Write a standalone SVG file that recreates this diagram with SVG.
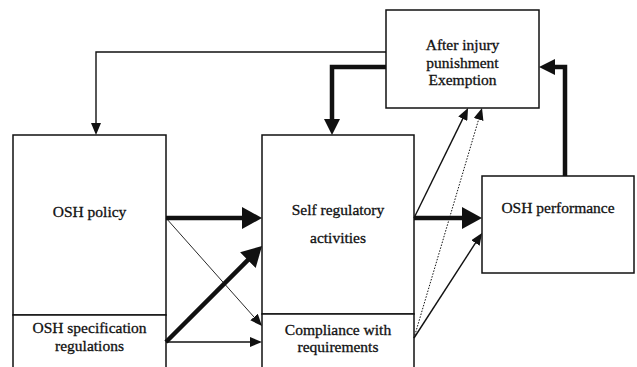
<svg xmlns="http://www.w3.org/2000/svg" width="637" height="367" viewBox="0 0 637 367">
<style>
.box{fill:#fff;stroke:#111;stroke-width:1.5}
.t{font-family:"Liberation Serif","Times New Roman",serif;font-size:15.5px;fill:#111;stroke:#111;stroke-width:0.3;text-anchor:middle}
.thin{fill:none;stroke:#111;stroke-width:1.4}
.hair{fill:none;stroke:#111;stroke-width:0.9}
.dot{fill:none;stroke:#111;stroke-width:1;stroke-dasharray:1.5 1.5}
.thick{fill:none;stroke:#111;stroke-width:4.5}
</style>
<defs>
<marker id="big" markerUnits="userSpaceOnUse" markerWidth="20" markerHeight="22" refX="2" refY="11" orient="auto"><path d="M0,0 L20,11 L0,22 z" fill="#111"/></marker>
<marker id="mid" markerUnits="userSpaceOnUse" markerWidth="16" markerHeight="16" refX="2" refY="8" orient="auto"><path d="M0,0 L16,8 L0,16 z" fill="#111"/></marker>
<marker id="sm" markerUnits="userSpaceOnUse" markerWidth="12" markerHeight="10" refX="1" refY="5" orient="auto"><path d="M0,0 L12,5 L0,10 z" fill="#111"/></marker>
</defs>
<rect width="637" height="367" fill="#fff"/>
<g id="osh-policy"><rect class="box" x="13" y="135" width="153" height="180"/><text class="t" x="89.5" y="217">OSH policy</text></g>
<g id="osh-spec"><rect class="box" x="13" y="315" width="153" height="60"/><text class="t" x="89.5" y="333">OSH specification</text><text class="t" x="89.5" y="351">regulations</text></g>
<g id="self-reg"><rect class="box" x="262" y="135" width="152" height="179"/><text class="t" x="338" y="215">Self regulatory</text><text class="t" x="338" y="243">activities</text></g>
<g id="compliance"><rect class="box" x="262" y="314" width="152" height="61"/><text class="t" x="338" y="335">Compliance with</text><text class="t" x="338" y="352">requirements</text></g>
<g id="after-injury"><rect class="box" x="386" y="10" width="153" height="98"/><text class="t" x="462.5" y="50">After injury</text><text class="t" x="462.5" y="68">punishment</text><text class="t" x="462.5" y="85">Exemption</text></g>
<g id="osh-performance"><rect class="box" x="482" y="176" width="152" height="97"/><text class="t" x="558" y="213">OSH performance</text></g>
<g id="connectors">
<path class="thin" d="M386,52 H96 V124" marker-end="url(#sm)"/>
<path class="thick" d="M386,67 H332 V121" marker-end="url(#mid)"/>
<path class="thick" d="M565,176 V67 H553" marker-end="url(#mid)"/>
<path class="thick" d="M166,218 H244" marker-end="url(#big)"/>
<path class="thick" d="M166,342 L249.3,258.7" marker-end="url(#big)"/>
<path class="thick" d="M414,218 H464" marker-end="url(#big)"/>
<path class="hair" d="M166,218 L254.7,317.8" marker-end="url(#sm)"/>
<path class="thin" d="M166,342 H251" marker-end="url(#sm)"/>
<path class="thin" d="M414,218 L463.2,117.9" marker-end="url(#sm)"/>
<path class="dot" d="M414,338 L478.9,118.5" marker-end="url(#sm)"/>
<path class="thin" d="M414,338 L476,242.2" marker-end="url(#sm)"/>
</g>
</svg>
